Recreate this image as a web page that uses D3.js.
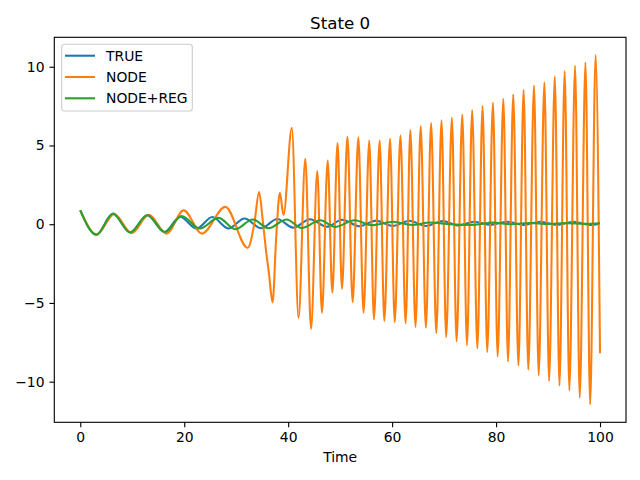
<!DOCTYPE html>
<html>
<head>
<meta charset="utf-8">
<script src="https://cdn.jsdelivr.net/npm/d3@7"></script>
<style>
  body { margin: 0; background: #fff; }
  svg { font-family: "DejaVu Sans", sans-serif; }
</style>
</head>
<body>
<div id="vis"></div>
<script>

// values (time, state value) at turning points
const trueT = [0, 3.1, 6.3, 9.6, 12.9, 16.2, 19.2, 22.4, 25.4, 28.5, 31.6, 34.8, 37.9, 41.0, 44.2, 47.4, 50.4, 53.7, 56.9, 60.1, 63.3, 66.5, 69.7, 72.8, 75.8, 78.9, 82.1, 85.3, 88.5, 91.7, 94.9, 98.1, 100]
const trueV = [0.88, -0.66, 0.67, -0.52, 0.57, -0.5, 0.47, -0.28, 0.46, -0.27, 0.36, -0.26, 0.33, -0.22, 0.32, -0.16, 0.28, -0.13, 0.23, -0.11, 0.22, -0.11, 0.2, -0.08, 0.16, -0.05, 0.16, -0.05, 0.16, -0.05, 0.16, -0.05, 0.05]

const nodeT = [0, 3.2, 6.5, 9.9, 13.2, 16.6, 19.9, 23.4, 27.9, 32.2, 33.5, 34.4, 35.1, 35.8, 36.3, 37.0, 37.7, 38.4, 39.1, 40.7, 42.0, 43.3, 44.4, 45.6, 46.5, 47.6, 48.5, 49.5, 50.35, 51.4, 52.4, 53.5, 54.5, 55.6, 56.5, 57.6, 58.5, 59.6, 60.5, 61.6, 62.6, 63.5, 64.5, 65.5, 66.5, 67.5, 68.5, 69.5, 70.4, 71.5, 72.4, 73.5, 74.4, 75.4, 76.4, 77.4, 78.3, 79.4, 80.3, 81.4, 82.3, 83.3, 84.3, 85.3, 86.2, 87.3, 88.2, 89.3, 90.2, 91.3, 92.2, 93.2, 94.1, 95.2, 96.1, 97.2, 98.1, 99.15, 100]
const nodeV = [0.88, -0.66, 0.64, -0.56, 0.6, -0.6, 0.88, -0.6, 1.1, -1.5, 0.05, 2.05, 0.26, -1.85, -3.12, -4.96, -0.8, 2.0, 0.58, 6.12, -5.95, 4.15, -6.65, 3.38, -5.62, 4.05, -4.35, 5.15, -4.1, 5.57, -4.95, 5.52, -5.62, 5.32, -6.05, 5.32, -6.15, 5.42, -6.22, 5.63, -6.3, 5.98, -6.52, 6.24, -6.58, 6.43, -6.92, 6.6, -7.17, 6.76, -7.45, 6.96, -7.68, 7.25, -7.88, 7.5, -8.12, 7.73, -8.4, 7.97, -8.72, 8.24, -8.97, 8.54, -9.24, 8.8, -9.6, 9.02, -9.96, 9.38, -10.25, 9.72, -10.55, 10.06, -11.02, 10.27, -11.45, 10.74, -8.2]

const regT = [0, 3.1, 6.3, 9.6, 12.9, 16.3, 19.5, 23.0, 26.6, 29.8, 33.2, 36.2, 39.7, 42.6, 46.2, 49.0, 52.8, 56.1, 60.2, 63.8, 67.3, 71.2, 75.5, 79.4, 83.0, 86.5, 90.0, 93.5, 97.0, 100]
const regV = [0.88, -0.67, 0.66, -0.53, 0.57, -0.5, 0.52, -0.27, 0.4, -0.32, 0.3, -0.26, 0.3, -0.25, 0.25, -0.17, 0.25, -0.06, 0.16, -0.05, 0.11, 0.0, -0.04, 0.1, 0.0, 0.08, 0.01, 0.07, 0.02, 0.06]

const seriesNames = ["TRUE", "NODE", "NODE+REG"]
const seriesColors = ["#1f77b4", "#ff7f0e", "#2ca02c"]
const xTicks = [0, 20, 40, 60, 80, 100]
const yTicks = [-10, -5, 0, 5, 10]

const W = 640, H = 480
const margin = {top: 37.3, right: 14, bottom: 57.7, left: 54.3}
const width = W - margin.left - margin.right
const height = H - margin.top - margin.bottom

function init() {

    const svg = d3.select('#vis')
        .append('svg')
        .attr('width', W)
        .attr('height', H)

    const g = svg.append('g')
        .attr('transform', `translate(${margin.left},${margin.top})`)

    let xScale = d3.scaleLinear()
        .domain([-5, 105])
        .range([0, width])

    let yScale = d3.scaleLinear()
        .domain([-12.58, 11.87])
        .range([height, 0])

    g.append('clipPath')
        .attr('id', 'plotclip')
        .append('rect')
        .attr('width', width)
        .attr('height', height)

    const series = [
        trueT.map((t, i) => [t, trueV[i]]),
        nodeT.map((t, i) => [t, nodeV[i]]),
        regT.map((t, i) => [t, regV[i]])
    ]

    const line = d3.line()
        .x(d => xScale(d[0]))
        .y(d => yScale(d[1]))
        .curve(d3.curveMonotoneX)

    g.append('g')
        .attr('clip-path', 'url(#plotclip)')
        .selectAll('path')
        .data(series)
        .enter()
        .append('path')
        .attr('d', line)
        .attr('fill', 'none')
        .attr('stroke', (d, i) => seriesColors[i])
        .attr('stroke-width', 2.08)
        .attr('stroke-linejoin', 'round')

    // axes
    const tickLen = 4.86
    let xAxis = g.append('g')
        .attr('transform', `translate(0,${height})`)
        .call(d3.axisBottom(xScale).tickValues(xTicks).tickSize(tickLen).tickPadding(4.9).tickSizeOuter(0))
    let yAxis = g.append('g')
        .call(d3.axisLeft(yScale).tickValues(yTicks).tickSize(tickLen).tickPadding(4.9).tickSizeOuter(0))

    for (const ax of [xAxis, yAxis]) {
        ax.select('.domain').remove()
        ax.selectAll('.tick line').attr('stroke', '#000').attr('stroke-width', 1.11)
        ax.selectAll('.tick text')
            .attr('fill', '#000')
            .style('font-size', '13.9px')
            .style('font-family', '"DejaVu Sans", sans-serif')
    }

    // spines
    g.append('rect')
        .attr('width', width)
        .attr('height', height)
        .attr('fill', 'none')
        .attr('stroke', '#000')
        .attr('stroke-width', 1.11)

    svg.append('text')
        .attr('x', margin.left + width / 2)
        .attr('y', 29)
        .attr('text-anchor', 'middle')
        .style('font-size', '16.7px')
        .text('State 0')

    svg.append('text')
        .attr('x', margin.left + width / 2)
        .attr('y', 462)
        .attr('text-anchor', 'middle')
        .style('font-size', '13.9px')
        .text('Time')

    // legend
    const legend = svg.append('g')
        .attr('transform', 'translate(61.7,44.3)')

    legend.append('rect')
        .attr('width', 130.6)
        .attr('height', 66.7)
        .attr('rx', 2.8)
        .attr('fill', '#fff')
        .attr('fill-opacity', 0.8)
        .attr('stroke', '#cccccc')
        .attr('stroke-width', 1.11)

    const rows = legend.selectAll('.row')
        .data(seriesNames)
        .enter()
        .append('g')
        .attr('class', 'row')
        .attr('transform', (d, i) => `translate(0,${11.4 + i * 21.3})`)

    rows.append('line')
        .attr('x1', 3.3)
        .attr('x2', 33.3)
        .attr('stroke', (d, i) => seriesColors[i])
        .attr('stroke-width', 2.08)

    rows.append('text')
        .attr('x', 44.3)
        .attr('y', 5)
        .style('font-size', '13.9px')
        .text(d => d)
}

window.addEventListener('load', init);
</script>
</body>
</html>
